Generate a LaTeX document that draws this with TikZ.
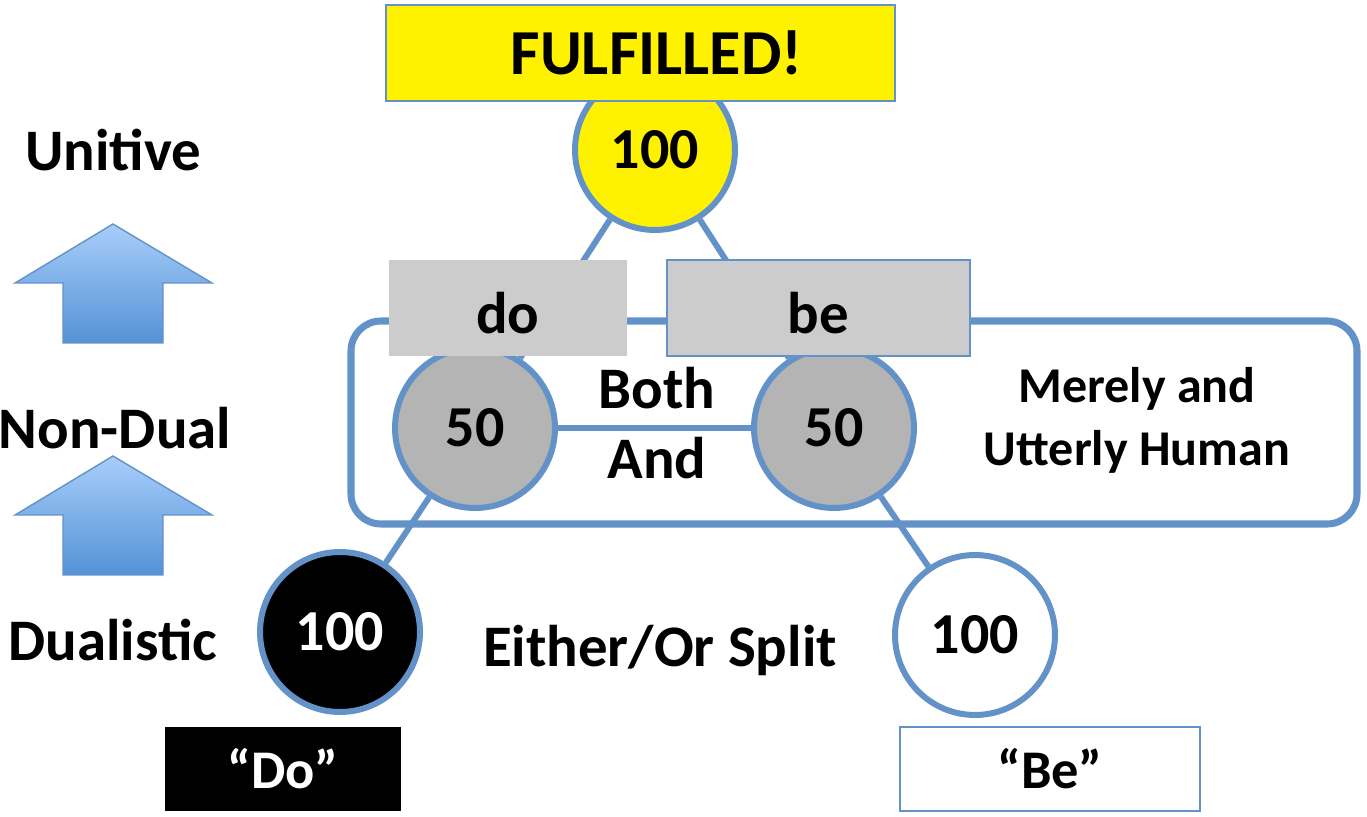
\documentclass[tikz,border=0pt]{standalone}
\usepackage{fontspec}
\setmainfont{Carlito}
\usetikzlibrary{positioning}
\definecolor{lineblue}{RGB}{98,146,200}
\definecolor{boxgray}{RGB}{204,204,204}
\definecolor{ballgray}{RGB}{180,180,180}
\definecolor{arrowtop}{RGB}{168,206,250}
\definecolor{arrowbot}{RGB}{84,146,214}
\newcommand{\bigtext}{\fontsize{33.5}{38}\selectfont\bfseries}
\newcommand{\midtext}{\fontsize{28.5}{34}\selectfont\bfseries}
\newcommand{\lowered}[1]{\raisebox{-0.1cm}[\height][0pt]{#1}}

\begin{document}
\begin{tikzpicture}[x=0.02cm, y=-0.02cm,
    ball/.style={circle, draw=lineblue, line width=3.4pt, minimum size=3.2cm, inner sep=0pt, font=\fontsize{33}{38}\selectfont\bfseries},
    link/.style={draw=lineblue, line width=3.4pt},
    tag/.style={minimum height=1.92cm, inner sep=0pt, font=\bigtext},
    label/.style={font=\bigtext, align=center}]
    \useasboundingbox (0, 0) rectangle (1367, 817);

    % frame round the non-dual level
    \draw[lineblue, line width=4pt, rounded corners=0.6cm] (351, 321) rectangle (1357, 524);

    % the five balls
    \node[ball, fill=yellow] (top) at (655, 150) {100};
    \node[ball, fill=ballgray] (doL) at (475, 428) {50};
    \node[ball, fill=ballgray] (beL) at (834, 428) {50};
    \node[ball, fill=black, text=white] (doX) at (340, 632) {100};
    \node[ball, fill=white] (beX) at (975, 635) {100};

    % lines between the balls
    \draw[link] (top) -- (doL);
    \draw[link] (top) -- (beL);
    \draw[link] (doL) -- (beL);
    \draw[link] (doL) -- (doX);
    \draw[link] (beL) -- (beX);

    % tags over the balls
    \node[tag, fill=boxgray, minimum width=4.76cm] (doTag) at (508, 308) {\lowered{do}};
    \node[tag, fill=boxgray, draw=lineblue, line width=0.8pt, minimum width=6.06cm] (beTag) at (818.5, 308) {\lowered{be}};
    \node[tag, fill=yellow, draw=lineblue, line width=0.8pt, minimum width=10.18cm, font=\fontsize{36.5}{40}\selectfont\bfseries] (goal) at (640.5, 53) {\hspace*{0.64cm}FULFILLED!};
    \node[tag, fill=black, text=white, minimum width=4.72cm, minimum height=1.68cm, font=\fontsize{31}{36}\selectfont\bfseries] (doQ) at (283, 769) {``Do''};
    \node[tag, fill=white, draw=lineblue, line width=0.8pt, minimum width=6cm, minimum height=1.68cm, font=\fontsize{31}{36}\selectfont\bfseries] (beQ) at (1050, 769) {``Be''};

    % levels on the left
    \node[label] (unitive) at (113, 150) {Unitive};
    \node[label] (nondual) at (115, 428) {Non-Dual};
    \node[label] (dualistic) at (113, 640) {Dualistic};

    % the up arrows
    \foreach \tipy in {224, 456} {
        \draw[lineblue, line width=0.8pt, top color=arrowtop, bottom color=arrowbot]
            (113, \tipy) -- (212, \tipy + 59) -- (163, \tipy + 59) -- (163, \tipy + 119)
            -- (63, \tipy + 119) -- (63, \tipy + 59) -- (15, \tipy + 59) -- cycle;
    }

    % words in the middle
    \node[label] (both) at (657, 388) {Both};
    \node[label] (and) at (657, 458) {And};
    \node[label] (split) at (660, 650) {Either/Or Split};
    \node[font=\midtext, align=center] (human) at (1137, 420) {Merely and\\[2pt]Utterly Human};
\end{tikzpicture}
\end{document}
